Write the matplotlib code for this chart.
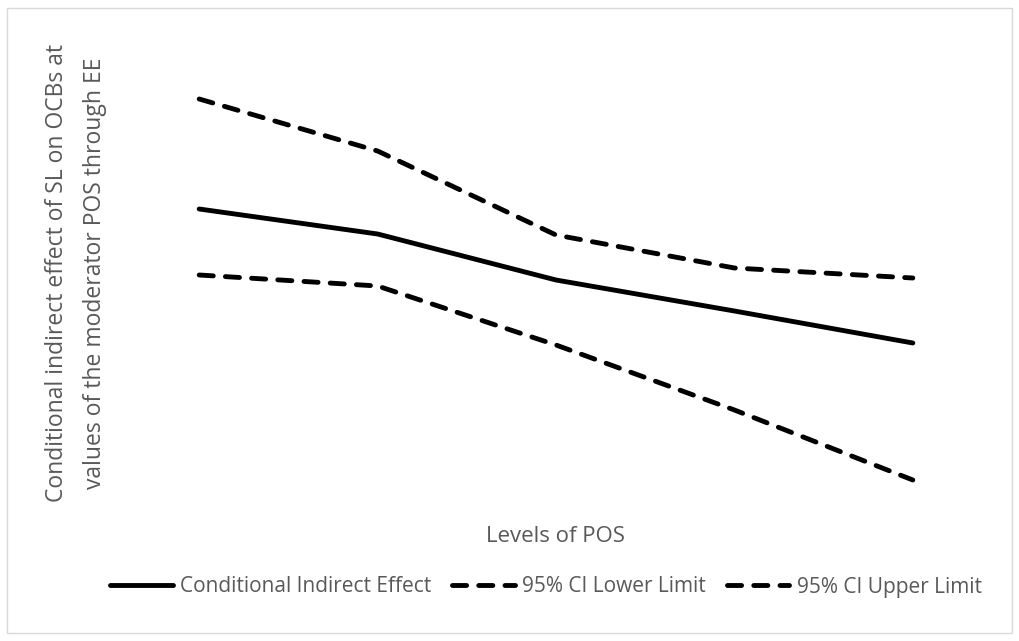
import matplotlib.pyplot as plt
from matplotlib.patches import Rectangle

levels = ["1", "2", "3", "4", "5"]
effect = [0.291, 0.266, 0.220, 0.189, 0.157]
ci_lower = [0.225, 0.214, 0.155, 0.090, 0.020]
ci_upper = [0.401, 0.349, 0.265, 0.232, 0.222]

series_names = ["Conditional Indirect Effect", "95% CI Lower Limit", "95% CI Upper Limit"]

grey = "#595959"
font = ["Open Sans", "DejaVu Sans"]

fig = plt.figure(figsize=(10.19, 6.41), dpi=100)
fig.patches.append(Rectangle((0.007, 0.012), 0.986, 0.976, transform=fig.transFigure,
                             fill=False, edgecolor="#d9d9d9", linewidth=1))

ax = fig.add_axes([110 / 1019, 1 - 500 / 641, 892 / 1019, 430 / 641])
x = list(range(len(levels)))

dash = (2.9, 2.5)
ax.plot(x, effect, color="black", lw=3.5, solid_capstyle="round",
        solid_joinstyle="round", label=series_names[0])
ax.plot(x, ci_lower, color="black", lw=3.5, dashes=dash,
        dash_capstyle="round", label=series_names[1])
ax.plot(x, ci_upper, color="black", lw=3.5, dashes=dash,
        dash_capstyle="round", label=series_names[2])

ax.set_xlim(-0.5, len(levels) - 0.5)
ax.set_ylim(0, 0.43)
ax.set_xticks([])
ax.set_yticks([])
for s in ax.spines.values():
    s.set_visible(False)

fig.text(57 / 1019, 1 - 273 / 641, "Conditional indirect effect of SL on OCBs at",
         rotation=90, ha="center", va="center", fontsize=16.5, color=grey, family=font)
fig.text(95 / 1019, 1 - 273 / 641, "values of the moderator POS through EE",
         rotation=90, ha="center", va="center", fontsize=16.5, color=grey, family=font)
fig.text(555 / 1019, 1 - 537 / 641, "Levels of POS",
         ha="center", va="center", fontsize=16, color=grey, family=font)

leg = fig.legend(loc="center", bbox_to_anchor=(546 / 1019, 1 - 587 / 641), ncol=3,
                 frameon=False, handlelength=3.0, handletextpad=0.35, columnspacing=1.0,
                 prop={"family": font, "size": 15})
for t in leg.get_texts():
    t.set_color(grey)

fig.savefig("out.png", dpi=100)
